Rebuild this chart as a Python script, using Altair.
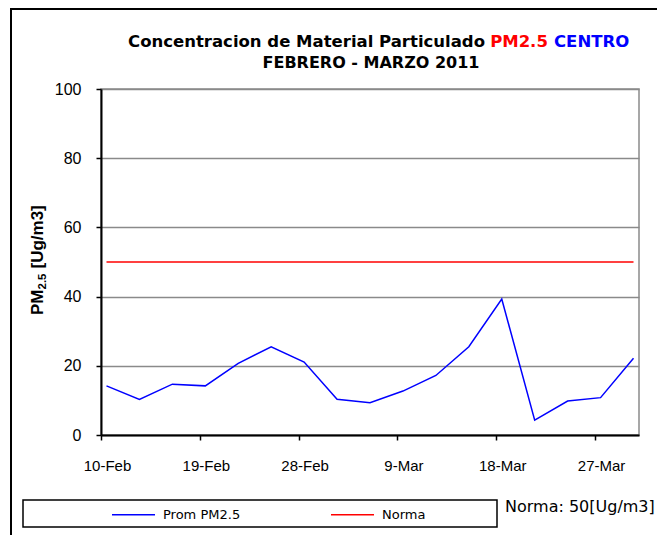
import altair as alt
import pandas as pd

# ---------------- data ----------------
dates = [
    "2011-02-10T12:00:00", "2011-02-13T12:00:00", "2011-02-16T12:00:00",
    "2011-02-19T12:00:00", "2011-02-22T12:00:00", "2011-02-25T12:00:00",
    "2011-02-28T12:00:00", "2011-03-03T12:00:00", "2011-03-06T12:00:00",
    "2011-03-09T12:00:00", "2011-03-12T12:00:00", "2011-03-15T12:00:00",
    "2011-03-18T12:00:00", "2011-03-21T12:00:00", "2011-03-24T12:00:00",
    "2011-03-27T12:00:00", "2011-03-30T12:00:00",
]
pm25 = [14.2, 10.3, 14.7, 14.2, 20.7, 25.5, 21.1, 10.3, 9.3, 12.7,
        17.2, 25.5, 39.3, 4.3, 9.8, 10.8, 22.2]
norma_dates = ["2011-02-10T12:00:00", "2011-03-30T12:00:00"]
norma = [50, 50]

series_names = ["Prom PM2.5", "Norma"]
series_colors = ["#0000ff", "#ff0000"]

y_ticks = [0, 20, 40, 60, 80, 100]
x_tick_dates = [(2011, 2, 10), (2011, 2, 19), (2011, 2, 28),
                (2011, 3, 9), (2011, 3, 18), (2011, 3, 27)]
x_domain = [(2011, 2, 10), (2011, 3, 31)]

title_main = "Concentracion de Material Particulado"
title_pm = "PM2.5"
title_loc = "CENTRO"
subtitle = "FEBRERO - MARZO 2011"
y_title_parts = ["PM", "2.5", "[Ug/m3]"]
norma_note = "Norma: 50[Ug/m3]"

# ---------------- table ----------------
df = pd.DataFrame({
    "fecha": dates + norma_dates,
    "valor": pm25 + norma,
    "serie": [series_names[0]] * len(pm25) + [series_names[1]] * len(norma),
})


def dt(t):
    return alt.DateTime(year=t[0], month=t[1], date=t[2])


one = alt.Data(values=[{}])
TF = "DejaVu Sans"

lines = alt.Chart(df).mark_line(strokeWidth=1.5).encode(
    x=alt.X(
        "fecha:T",
        scale=alt.Scale(domain=[dt(t) for t in x_domain]),
        axis=alt.Axis(
            values=[dt(t) for t in x_tick_dates],
            format="%-d-%b",
            title=None,
            grid=False,
            domainColor="black",
            domainWidth=2,
            tickColor="black",
            tickWidth=1.5,
            tickSize=5,
            labelPadding=18,
            labelOffset=6,
            labelFlush=False,
            labelFont="Liberation Sans",
            labelFontSize=15,
            labelColor="black",
        ),
    ),
    y=alt.Y(
        "valor:Q",
        scale=alt.Scale(domain=[0, 100], nice=False),
        axis=alt.Axis(
            values=y_ticks,
            title=None,
            grid=True,
            gridColor="#8a8a8a",
            gridWidth=1.5,
            domainColor="black",
            domainWidth=2,
            tickColor="black",
            tickWidth=1.5,
            tickSize=5,
            labelPadding=15,
            labelFont="Liberation Sans",
            labelFontSize=16,
            labelColor="black",
        ),
    ),
    color=alt.Color(
        "serie:N",
        scale=alt.Scale(domain=series_names, range=series_colors),
        sort=series_names,
        legend=alt.Legend(
            title=None,
            orient="none",
            legendX=10,
            legendY=403,
            direction="horizontal",
            symbolType="stroke",
            symbolSize=1849,
            symbolStrokeWidth=1.5,
            labelFont=TF,
            labelFontSize=13,
            labelColor="black",
            labelOffset=7,
            columnPadding=87,
            padding=0,
        ),
    ),
)

border = alt.Chart(one).mark_rect(
    fillOpacity=0, stroke="black", strokeWidth=2
).encode(
    x=alt.value(-90), x2=alt.value(700), y=alt.value(-80), y2=alt.value(700)
)

legend_box = alt.Chart(one).mark_rect(
    fill="white", stroke="black", strokeWidth=1.5
).encode(
    x=alt.value(-78), x2=alt.value(396), y=alt.value(411), y2=alt.value(438)
)


def label(txt, x, y, color="black", align="left", size=15, bold=True,
          font=TF, angle=0):
    return alt.Chart(one).mark_text(
        align=align, baseline="alphabetic", font=font, fontSize=size,
        fontWeight="bold" if bold else "normal", color=color, angle=angle,
    ).encode(x=alt.value(x), y=alt.value(y), text=alt.value(txt))


t1 = label(title_main, 384, -42, size=16.5, align="right")
t2 = label(title_pm, 418, -42, size=16.5, color="#ff0000", align="center")
t3 = label(title_loc, 453, -42, size=16.5, color="#0000ff", align="left")
t4 = label(subtitle, 270, -21, size=16, align="center")
note = label(norma_note, 404, 423, size=16, bold=False)

# rotated y-axis title with a real subscript
YF = "Liberation Sans"
yt1 = label(y_title_parts[0], -58, 226, size=17, font=YF, angle=270)
yt2 = label(y_title_parts[1], -55, 226 - 25.5, size=11.5, font=YF, angle=270)
yt3 = label(y_title_parts[2], -58, 226 - 25.5 - 16 - 5, size=17, font=YF, angle=270)

chart = alt.layer(
    border, legend_box, lines, t1, t2, t3, t4, note, yt1, yt2, yt3
).properties(
    width=538,
    height=346,
    autosize=alt.AutoSizeParams(type="none"),
    padding={"left": 93, "top": 81, "right": 18, "bottom": 100},
).configure_view(stroke="#8a8a8a", strokeWidth=1.5)

chart.save("out.html", embed_options={"renderer": "svg", "actions": False})
